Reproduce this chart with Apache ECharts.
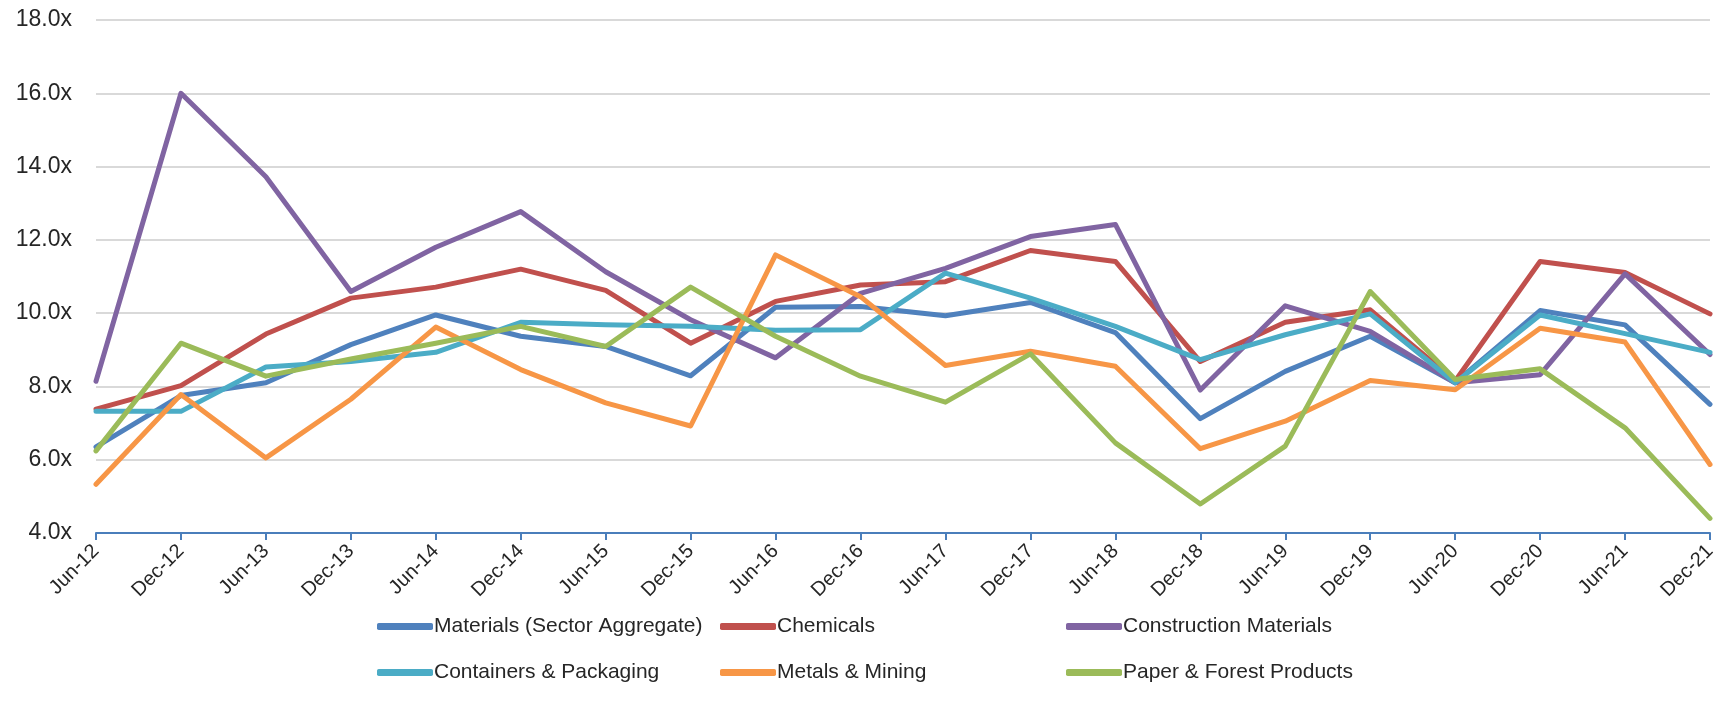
<!DOCTYPE html>
<html>
<head>
<meta charset="utf-8">
<script src="https://cdn.jsdelivr.net/npm/echarts@6/dist/echarts.min.js"></script>
<style>
    html, body { margin: 0; padding: 0; background: #fff; }
    #chart { width: 1733px; height: 715px; }
</style>
</head>
<body>
<div id="chart"></div>
<script>
// categories (half-year periods)
var periods = ['Jun-12', 'Dec-12', 'Jun-13', 'Dec-13', 'Jun-14', 'Dec-14', 'Jun-15', 'Dec-15', 'Jun-16', 'Dec-16',
    'Jun-17', 'Dec-17', 'Jun-18', 'Dec-18', 'Jun-19', 'Dec-19', 'Jun-20', 'Dec-20', 'Jun-21', 'Dec-21'];

// multiples per sub-industry
var materialsAgg = [6.35, 7.75, 8.1, 9.14, 9.95, 9.37, 9.09, 8.29, 10.16, 10.18, 9.93, 10.29, 9.47, 7.12, 8.41, 9.37, 8.1, 10.07, 9.68, 7.51];
var chemicals = [7.38, 8.02, 9.43, 10.41, 10.71, 11.2, 10.62, 9.18, 10.32, 10.77, 10.86, 11.71, 11.41, 8.68, 9.75, 10.09, 8.15, 11.41, 11.11, 9.98];
var construction = [8.14, 16.0, 13.72, 10.59, 11.8, 12.77, 11.13, 9.82, 8.78, 10.54, 11.22, 12.09, 12.42, 7.9, 10.2, 9.5, 8.1, 8.32, 11.07, 8.87];
var containers = [7.32, 7.32, 8.53, 8.68, 8.93, 9.75, 9.68, 9.64, 9.53, 9.55, 11.09, 10.41, 9.64, 8.73, 9.41, 9.98, 8.1, 9.95, 9.44, 8.93];
var metals = [5.33, 7.78, 6.05, 7.65, 9.62, 8.46, 7.55, 6.92, 11.59, 10.45, 8.57, 8.96, 8.55, 6.3, 7.05, 8.16, 7.91, 9.59, 9.21, 5.87];
var paper = [6.24, 9.18, 8.28, 8.75, 9.18, 9.64, 9.09, 10.71, 9.37, 8.28, 7.57, 8.89, 6.46, 4.79, 6.37, 10.59, 8.19, 8.48, 6.87, 4.4];

// y-axis ticks
var yMin = 4, yMax = 18, yStep = 2;

var seriesNames = ['Materials (Sector Aggregate)', 'Chemicals', 'Construction Materials',
    'Containers & Packaging', 'Metals & Mining', 'Paper & Forest Products'];
var seriesData = [materialsAgg, chemicals, construction, containers, metals, paper];
var colors = ['#4F81BD', '#C0504D', '#8064A2', '#4BACC6', '#F79646', '#9BBB59'];

var txtFont = 'Liberation Sans';
var txtColor = '#262626';

// legend placement: 3 columns x 2 rows
var legendLeft = [372, 715, 1061];
var legendTop = [611, 657];
var legends = [];
for (var i = 0; i < seriesNames.length; i++) {
    legends.push({
        data: [seriesNames[i]],
        left: legendLeft[i % 3],
        top: legendTop[Math.floor(i / 3)],
        icon: 'roundRect',
        itemWidth: 56,
        itemHeight: 7,
        itemGap: 0,
        textStyle: {
            fontFamily: txtFont,
            fontSize: 21,
            color: txtColor,
            padding: [0, 0, 0, -4]
        }
    });
}

var chart = echarts.init(document.getElementById('chart'));
var option = {
    animation: false,
    backgroundColor: '#ffffff',
    color: colors,
    grid: {
        left: 96,
        right: 23,
        top: 20,
        bottom: 182
    },
    legend: legends,
    xAxis: {
        type: 'category',
        boundaryGap: false,
        data: periods,
        axisLine: {
            lineStyle: {
                color: '#4A7EBB',
                width: 2
            }
        },
        axisTick: {
            alignWithLabel: true,
            length: 7,
            lineStyle: {
                color: '#4A7EBB',
                width: 2
            }
        },
        axisLabel: {
            rotate: 45,
            interval: 0,
            margin: 15,
            fontFamily: txtFont,
            fontSize: 20,
            color: txtColor
        },
        splitLine: {show: false}
    },
    yAxis: {
        type: 'value',
        min: yMin,
        max: yMax,
        interval: yStep,
        axisLine: {show: false},
        axisTick: {show: false},
        axisLabel: {
            margin: 24,
            fontFamily: txtFont,
            fontSize: 23,
            color: txtColor,
            formatter: function (v) {
                return v.toFixed(1) + 'x';
            }
        },
        splitLine: {
            lineStyle: {
                color: '#D9D9D9',
                width: 2
            }
        }
    },
    series: seriesNames.map(function (name, i) {
        return {
            name: name,
            type: 'line',
            data: seriesData[i],
            symbol: 'none',
            lineStyle: {
                width: 5,
                color: colors[i],
                cap: 'round',
                join: 'round'
            }
        };
    })
};
chart.setOption(option);
</script>
</body>
</html>
